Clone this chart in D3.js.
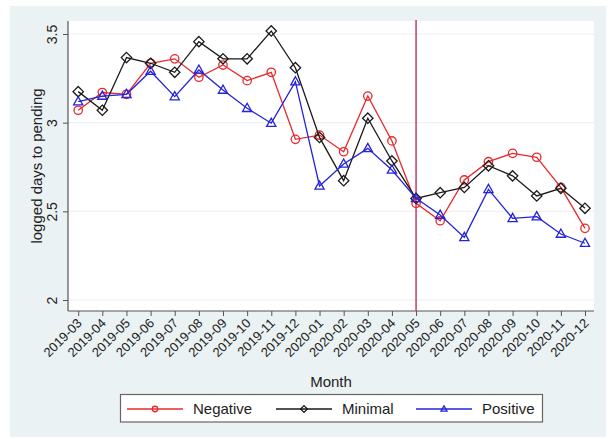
<!DOCTYPE html>
<html><head><meta charset="utf-8">
<script src="https://cdn.jsdelivr.net/npm/d3@7"></script>
<style>body{margin:0;background:#fff;} text{font-family:"Liberation Sans",Arial,sans-serif;}</style>
</head><body>
<svg id="c" width="611" height="439"></svg>
<script>
const months = ["2019-03","2019-04","2019-05","2019-06","2019-07","2019-08","2019-09","2019-10","2019-11","2019-12","2020-01","2020-02","2020-03","2020-04","2020-05","2020-06","2020-07","2020-08","2020-09","2020-10","2020-11","2020-12"];
const negative = [3.07,3.17,3.16,3.335,3.36,3.256,3.325,3.237,3.284,2.906,2.93,2.836,3.15,2.897,2.545,2.447,2.677,2.78,2.827,2.805,2.635,2.404];
const minimal  = [3.175,3.07,3.367,3.335,3.284,3.457,3.36,3.36,3.517,3.31,2.917,2.673,3.025,2.784,2.573,2.605,2.635,2.757,2.70,2.587,2.63,2.517];
const positive = [3.118,3.15,3.16,3.29,3.147,3.297,3.184,3.081,2.997,3.231,2.643,2.767,2.855,2.733,2.573,2.479,2.353,2.624,2.46,2.47,2.372,2.32];
const yTicks = [2,2.5,3,3.5];
const seriesNames = ["Negative","Minimal","Positive"];
const eventMonth = "2020-05";

const svg = d3.select("#c");
svg.append("rect").attr("x",10).attr("y",6).attr("width",596).attr("height",431).attr("fill","#eaf2f3");
const plot = {l:68, r:594, t:21, b:311};
svg.append("rect").attr("x",plot.l).attr("y",plot.t).attr("width",plot.r-plot.l).attr("height",plot.b-plot.t).attr("fill","#fff");

const x = d3.scalePoint().domain(months).range([78.2,585]);
const y = d3.scaleLinear().domain([2,3.5]).range([300,34]);

svg.append("g").selectAll("line").data(yTicks).join("line")
  .attr("x1",plot.l).attr("x2",plot.r).attr("y1",d=>y(d)).attr("y2",d=>y(d))
  .attr("stroke","#eaeef0").attr("stroke-width",1);

const ya = svg.append("g").attr("transform",`translate(${plot.l},0)`)
  .call(d3.axisLeft(y).tickValues(yTicks).tickSize(5).tickFormat(d3.format("")));
ya.select(".domain").attr("d",`M0,${plot.t}V${plot.b}`).attr("stroke","#555").attr("stroke-width",1.2);
ya.selectAll(".tick line").attr("stroke","#555");
ya.selectAll(".tick text").attr("transform","rotate(-90)").attr("x",0).attr("y",-11).attr("dy",0)
  .attr("text-anchor","middle").attr("font-size",14).attr("fill","#222").attr("font-family","Liberation Sans, Arial, sans-serif");

const xa = svg.append("g").attr("transform",`translate(0,${plot.b})`)
  .call(d3.axisBottom(x).tickSize(5));
xa.select(".domain").attr("d",`M${plot.l},0H${plot.r}`).attr("stroke","#555").attr("stroke-width",1.2);
xa.selectAll(".tick line").attr("stroke","#555");
xa.selectAll(".tick text").attr("text-anchor","end").attr("font-size",13).attr("fill","#222")
  .attr("font-family","Liberation Sans, Arial, sans-serif")
  .attr("x",0).attr("y",0).attr("dy",0)
  .attr("transform","translate(4,13) rotate(-45)");

svg.append("line").attr("x1",x(eventMonth)).attr("x2",x(eventMonth)).attr("y1",plot.t-1).attr("y2",plot.b)
  .attr("stroke","#c8477a").attr("stroke-width",1.6);

const colors = ["#e8292c","#1a1a1a","#2323d8"];
const data = [negative,minimal,positive];
const line = d3.line().x((d,i)=>x(months[i])).y(d=>y(d));

function marker(g,type,color,cx,cy,s){
  s = s||1;
  if(type===0) g.append("circle").attr("cx",cx).attr("cy",cy).attr("r",4.2*s).attr("fill","none").attr("stroke",color).attr("stroke-width",1.3);
  else if(type===1) g.append("path").attr("d",`M${cx},${cy-5.2*s}L${cx+5.2*s},${cy}L${cx},${cy+5.2*s}L${cx-5.2*s},${cy}Z`).attr("fill","none").attr("stroke",color).attr("stroke-width",1.3);
  else g.append("path").attr("d",`M${cx},${cy-5*s}L${cx+4.6*s},${cy+3.2*s}L${cx-4.6*s},${cy+3.2*s}Z`).attr("fill","none").attr("stroke",color).attr("stroke-width",1.3);
}

data.forEach((s,k)=>{
  const g = svg.append("g");
  g.append("path").datum(s).attr("d",line).attr("fill","none").attr("stroke",colors[k]).attr("stroke-width",1.3);
  s.forEach((v,i)=>marker(g,k,colors[k],x(months[i]),y(v)));
});

svg.append("text").attr("x",(plot.l+plot.r)/2).attr("y",387).attr("text-anchor","middle").attr("font-size",15).attr("fill","#222").text("Month");
svg.append("text").attr("transform",`translate(42,166) rotate(-90)`).attr("text-anchor","middle").attr("font-size",15).attr("fill","#222").text("logged days to pending");

const lg = svg.append("g");
lg.append("rect").attr("x",120.5).attr("y",394.5).attr("width",422).attr("height",27.5).attr("fill","#fff").attr("stroke","#666").attr("stroke-width",1.2);
const lx = [127,276,416];
seriesNames.forEach((n,k)=>{
  lg.append("line").attr("x1",lx[k]).attr("x2",lx[k]+56).attr("y1",409).attr("y2",409).attr("stroke",colors[k]).attr("stroke-width",1.3);
  marker(lg,k,colors[k],lx[k]+28,409,0.65);
  lg.append("text").attr("x",lx[k]+66).attr("y",414).attr("font-size",15).attr("fill","#222").text(n);
});
</script>
</body></html>
